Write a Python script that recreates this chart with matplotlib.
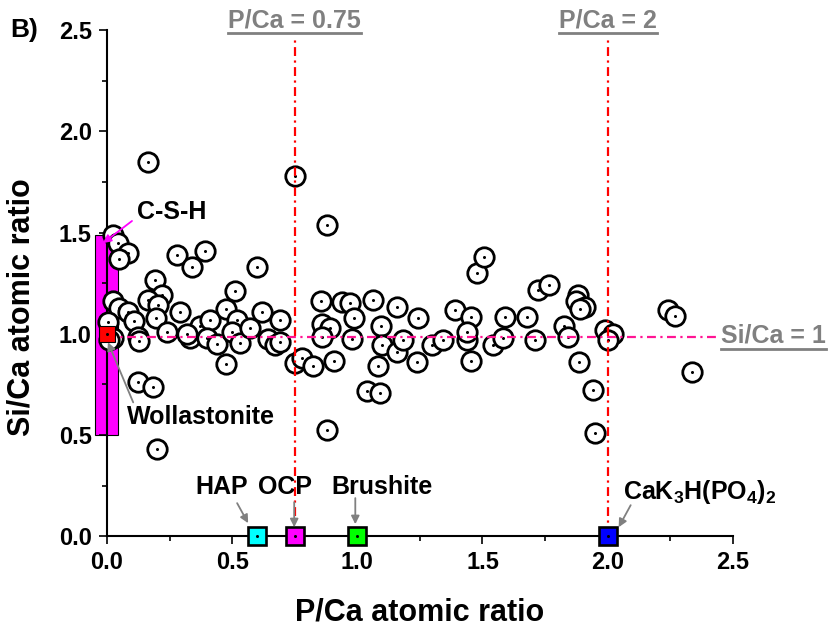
import numpy as np
import matplotlib
matplotlib.use("Agg")
import matplotlib.pyplot as plt
from matplotlib.patches import Rectangle
from matplotlib.lines import Line2D

plt.rcParams['font.family'] = ['Liberation Sans', 'DejaVu Sans']
plt.rcParams['font.weight'] = 'bold'
plt.rcParams['mathtext.fontset'] = 'custom'
plt.rcParams['mathtext.rm'] = 'Liberation Sans:bold'
plt.rcParams['mathtext.bf'] = 'Liberation Sans:bold'
plt.rcParams['mathtext.default'] = 'rm'

# =====================================================
# Data
# =====================================================
pca = [0.024, 0.045, 0.085, 0.05, 0.28, 0.39, 0.34, 0.60, 0.88, 0.165,
       0.75, 0.19, 0.22, 0.51, 0.025, 0.165, 0.05, 0.085, 0.11, 0.205,
       0.196, 0.29, 0.24, 0.125, 0.13, 0.025, 0.33, 0.37, 0.41, 0.40,
       0.44, 0.476, 0.52, 0.50, 0.53, 0.57, 0.62, 0.69, 0.645, 0.67,
       0.475, 0.75, 0.78, 0.825, 0.905, 0.125, 0.183, 0.855, 0.94, 0.97,
       0.86, 0.89, 0.86, 0.985, 0.98, 1.064, 1.096, 1.10, 1.16, 1.16,
       1.084, 1.04, 1.092, 1.48, 1.244, 1.39, 1.456, 1.588, 1.676, 1.72,
       1.764, 1.184, 1.30, 1.344, 1.44, 1.44, 1.544, 1.58, 1.708, 1.24,
       1.456, 0.88, 1.508, 1.88, 1.875, 1.91, 1.89, 1.824, 1.84, 1.99,
       2.02, 2.0, 1.884, 1.94, 1.95, 2.24, 2.27, 2.336, 0.004, 0.01,
       0.32, 0.20, 0.69]
sica = [1.487, 1.45, 1.40, 1.37, 1.39, 1.41, 1.33, 1.33, 1.54, 1.848,
        1.78, 1.265, 1.19, 1.21, 1.16, 1.165, 1.125, 1.11, 1.065, 1.14,
        1.077, 1.11, 1.008, 0.983, 0.965, 0.98, 0.98, 1.04, 1.067, 0.98,
        0.95, 1.12, 1.07, 1.008, 0.953, 1.03, 1.11, 1.07, 0.973, 0.944,
        0.85, 0.855, 0.88, 0.84, 0.865, 0.76, 0.737, 1.16, 1.157, 1.15,
        1.05, 1.03, 0.985, 1.077, 0.973, 1.166, 1.037, 0.944, 1.13, 0.91,
        0.84, 0.717, 0.706, 1.30, 1.077, 1.117, 1.082, 1.082, 1.082, 1.215,
        1.24, 0.968, 0.944, 0.968, 0.968, 1.01, 0.944, 0.98, 0.968, 0.86,
        0.865, 0.524, 1.378, 1.19, 1.16, 1.13, 1.12, 1.037, 0.983, 1.02,
        1.0, 0.97, 0.86, 0.72, 0.51, 1.117, 1.087, 0.81, 1.057, 0.97,
        1.0, 0.43, 0.96]

# reference minerals (P/Ca, Si/Ca)
mineral_names = ["HAP", "OCP", "Brushite", r"CaK$_3$H(PO$_4$)$_2$"]
mineral_pca = [0.6, 0.75, 1.0, 2.0]
mineral_sica = [0.0, 0.0, 0.0, 0.0]
mineral_colors = ["#00FFFF", "#FF00FF", "#00FF00", "#0000FF"]

wollastonite = (0.0, 1.0)
csh_pca = (-0.048, 0.045)
csh_sica = (0.5, 1.49)

pca_lines = [0.75, 2.0]
pca_line_labels = ["P/Ca = 0.75", "P/Ca = 2"]
sica_line = 0.985

# =====================================================
# Figure
# =====================================================
fig = plt.figure(figsize=(8.29, 6.3), dpi=100)
ax = fig.add_axes([0.129, 0.149, 0.755, 0.803])

# C-S-H range
ax.add_patch(Rectangle((csh_pca[0], csh_sica[0]), csh_pca[1] - csh_pca[0],
                       csh_sica[1] - csh_sica[0], fc="#FF00FF", ec="black",
                       lw=0.8, clip_on=False, zorder=1))

# measured points: open circles with a centre dot
for x, y in zip(pca, sica):
    ax.plot(x, y, "o", ms=14, mfc="white", mec="black", mew=2.0,
            clip_on=False, zorder=3)
    ax.plot(x, y, "o", ms=2.2, mfc="black", mec="black", mew=0,
            clip_on=False, zorder=3)

# reference lines
for xv in pca_lines:
    ax.plot([xv, xv], [0, 2.47], color="red", lw=1.6,
            dashes=(4, 2, 1, 2), clip_on=False, zorder=4)
ax.plot([0, 2.44], [sica_line, sica_line], color="#FF1493", lw=1.6,
        dashes=(4, 2, 1, 2), clip_on=False, zorder=4)

# minerals
ax.plot(*wollastonite, "s", ms=11.5, mfc="red", mec="black", mew=0.8,
        clip_on=False, zorder=5)
ax.plot(*wollastonite, "o", ms=2.2, mfc="black", mew=0, clip_on=False, zorder=5)
for x, y, c in zip(mineral_pca, mineral_sica, mineral_colors):
    ax.plot(x, y, "s", ms=12.5, mfc=c, mec="black", mew=1.9,
            clip_on=False, zorder=5)
    ax.plot(x, y, "o", ms=2.2, mfc="black", mew=0, clip_on=False, zorder=5)

# annotations
gray = "#808080"
arr_g = dict(arrowstyle="-|>", color=gray, lw=1.3, mutation_scale=12,
             shrinkA=0, shrinkB=0)
ax.annotate("C-S-H", xy=(-0.016, 1.448), xytext=(0.12, 1.60),
            fontsize=18, fontweight="bold", ha="left", va="center",
            annotation_clip=False, zorder=6,
            arrowprops=dict(arrowstyle="-|>", color="#FF00FF", lw=1.3,
                            mutation_scale=12, shrinkA=2, shrinkB=0,
                            relpos=(0.0, 0.3)))
ax.annotate("Wollastonite", xy=(0.004, 0.958), xytext=(0.08, 0.588),
            fontsize=18, fontweight="bold", ha="left", va="center",
            annotation_clip=False, zorder=6,
            arrowprops=dict(arr_g, relpos=(0.05, 1.0)))
ax.text(0.46, 0.242, "HAP", fontsize=18, fontweight="bold",
        ha="center", va="center")
ax.annotate("", xy=(0.564, 0.064), xytext=(0.52, 0.163),
            annotation_clip=False, arrowprops=arr_g)
ax.text(0.712, 0.242, "OCP", fontsize=18, fontweight="bold",
        ha="center", va="center")
ax.annotate("", xy=(0.748, 0.044), xytext=(0.748, 0.168),
            annotation_clip=False, arrowprops=arr_g, zorder=6)
ax.text(1.10, 0.242, "Brushite", fontsize=18, fontweight="bold",
        ha="center", va="center")
ax.annotate("", xy=(0.992, 0.059), xytext=(0.992, 0.188),
            annotation_clip=False, arrowprops=arr_g)
ax.text(2.06, 0.217, mineral_names[3], fontsize=18, ha="left",
        va="center", clip_on=False)
ax.annotate("", xy=(2.044, 0.044), xytext=(2.092, 0.153),
            annotation_clip=False, arrowprops=arr_g, zorder=6)

# gray underlined labels
under = []
for xv, lab in zip(pca_lines, pca_line_labels):
    under.append(ax.text(xv, 2.55, lab, color=gray, fontsize=18,
                         fontweight="bold", ha="center", va="center",
                         clip_on=False))
under.append(ax.text(2.452, 0.99, "Si/Ca = 1", color=gray, fontsize=18,
                     fontweight="bold", ha="left", va="center",
                     clip_on=False))

fig.text(0.012, 0.952, "B)", fontsize=19, fontweight="bold", va="center")

# axes styling
ax.set_xlim(0, 2.5)
ax.set_ylim(0, 2.5)
ax.set_xticks(np.arange(0, 2.51, 0.5))
ax.set_yticks(np.arange(0, 2.51, 0.5))
ax.set_xticks(np.arange(0, 2.51, 0.25), minor=True)
ax.set_yticks(np.arange(0, 2.51, 0.25), minor=True)
ax.xaxis.set_major_formatter(plt.FormatStrFormatter("%.1f"))
ax.yaxis.set_major_formatter(plt.FormatStrFormatter("%.1f"))
for s in ["top", "right"]:
    ax.spines[s].set_visible(False)
for s in ["left", "bottom"]:
    ax.spines[s].set_linewidth(1.5)
ax.tick_params(which="major", direction="out", length=6, width=1.2,
               labelsize=17, pad=5)
ax.tick_params(which="minor", direction="out", length=3.5, width=1.2)
for lab in ax.get_xticklabels() + ax.get_yticklabels():
    lab.set_fontweight("bold")
ax.set_xlabel("P/Ca atomic ratio", fontsize=22, fontweight="bold")
ax.set_ylabel("Si/Ca atomic ratio", fontsize=22, fontweight="bold")
ax.xaxis.set_label_coords(0.5, -0.122)
ax.yaxis.set_label_coords(-0.112, 0.453)

# underline the gray labels
fig.canvas.draw()
r = fig.canvas.get_renderer()
W, H = fig.get_size_inches() * fig.dpi
for t in under:
    bb = t.get_window_extent(r)
    y = bb.y0 - 1
    fig.add_artist(Line2D([bb.x0 / W, bb.x1 / W], [y / H, y / H],
                          color=gray, lw=2.0))

fig.savefig("out.png", dpi=100)
